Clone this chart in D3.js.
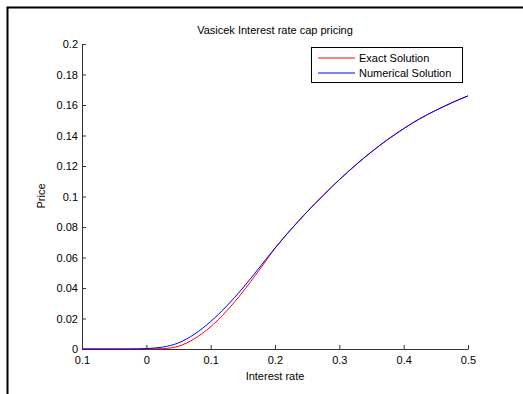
<!DOCTYPE html>
<html><head><meta charset="utf-8">
<script src="https://cdn.jsdelivr.net/npm/d3@7/dist/d3.min.js"></script>
<style>body{margin:0;background:#fff}text{font-family:Arial,"Liberation Sans",sans-serif}</style>
</head><body>
<svg id="c" width="523" height="394"></svg>
<script>
const rates = [-0.1,-0.075,-0.05,-0.025,0,0.025,0.05,0.075,0.1,0.125,0.15,0.175,0.2,0.225,0.25,0.275,0.3,0.325,0.35,0.375,0.4,0.425,0.45,0.475,0.5];
const exactPrice = [0,0,0,0,0,0.0002,0.0018,0.0068,0.0146,0.0250,0.0375,0.0515,0.0660,0.0785,0.0900,0.1008,0.1110,0.1205,0.1293,0.1373,0.1445,0.1510,0.1565,0.1615,0.1660];
const numericalPrice = [0,0,0,0,0.0003,0.0012,0.0040,0.0098,0.0180,0.0282,0.0400,0.0530,0.0662,0.0785,0.0900,0.1008,0.1110,0.1205,0.1293,0.1373,0.1445,0.1510,0.1565,0.1615,0.1660];
const xTicks = [-0.1,0,0.1,0.2,0.3,0.4,0.5];
const xTickLabels = ["0.1","0","0.1","0.2","0.3","0.4","0.5"];
const yTicks = [0,0.02,0.04,0.06,0.08,0.1,0.12,0.14,0.16,0.18,0.2];
const seriesNames = ["Exact Solution","Numerical Solution"];
const seriesColors = ["#ff0000","#0000ff"];

const svg = d3.select("#c");
svg.append("path").attr("d","M7.5,394V7.5H523").attr("fill","none").attr("stroke","#000").attr("stroke-width",2);

const x = d3.scaleLinear().domain([-0.1,0.5]).range([82,468]);
const y = d3.scaleLinear().domain([0,0.2]).range([349,44]);

const xa = svg.append("g").attr("transform","translate(0,349)")
  .call(d3.axisBottom(x).tickValues(xTicks).tickSizeInner(-4).tickSizeOuter(0).tickPadding(7)
    .tickFormat((d,i)=>xTickLabels[i]));
const ya = svg.append("g").attr("transform","translate(82,0)")
  .call(d3.axisLeft(y).tickValues(yTicks).tickSizeInner(-4).tickSizeOuter(0).tickPadding(4)
    .tickFormat(d=>d3.format("")(+d.toFixed(2))));
[xa,ya].forEach(a=>{
  a.selectAll("path,line").attr("stroke","#333");
  a.selectAll("text").attr("font-size",11).attr("fill","#000").attr("font-family","Arial,'Liberation Sans',sans-serif");
});

const line = d3.line().x((d,i)=>x(rates[i])).y(d=>y(d)).curve(d3.curveMonotoneX);
svg.append("path").datum(exactPrice).attr("d",line).attr("fill","none").attr("stroke",seriesColors[0]).attr("stroke-width",1);
svg.append("path").datum(numericalPrice).attr("d",line).attr("fill","none").attr("stroke",seriesColors[1]).attr("stroke-width",1);

svg.append("text").attr("x",275).attr("y",34).attr("text-anchor","middle").attr("font-size",11).text("Vasicek Interest rate cap pricing");
svg.append("text").attr("x",275).attr("y",380).attr("text-anchor","middle").attr("font-size",11).text("Interest rate");
svg.append("text").attr("transform","translate(45,196) rotate(-90)").attr("text-anchor","middle").attr("font-size",11).text("Price");

const lg = svg.append("g");
lg.append("rect").attr("x",311.5).attr("y",47.5).attr("width",151).attr("height",35).attr("fill","#fff").attr("stroke","#000");
seriesNames.forEach((n,i)=>{
  const yy = 58 + i*15;
  lg.append("line").attr("x1",318).attr("x2",355).attr("y1",yy).attr("y2",yy).attr("stroke",seriesColors[i]);
  lg.append("text").attr("x",359).attr("y",yy+4).attr("font-size",11).text(n);
});
</script>
</body></html>
